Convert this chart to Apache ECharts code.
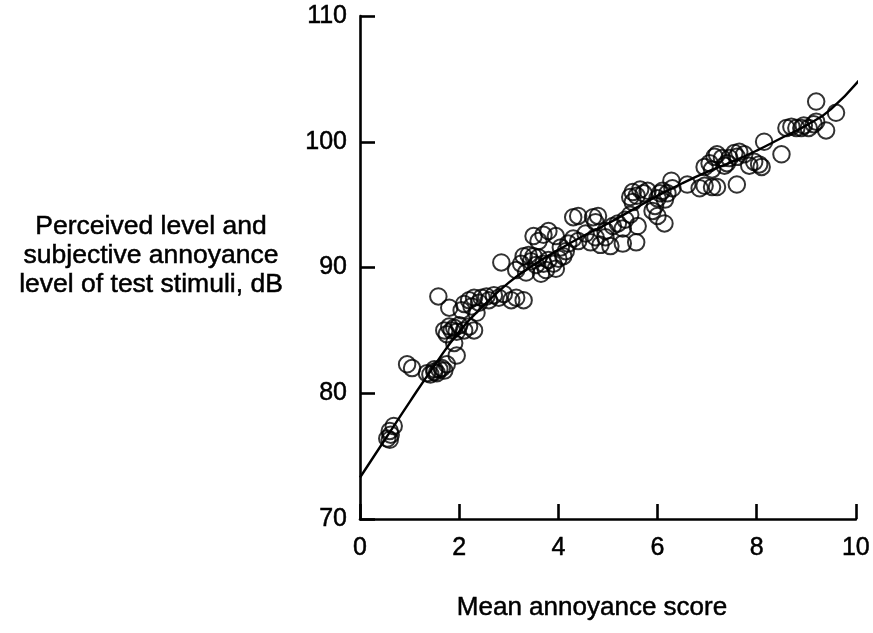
<!DOCTYPE html>
<html>
<head>
<meta charset="utf-8">
<script src="https://cdn.jsdelivr.net/npm/echarts@6/dist/echarts.min.js"></script>
<style>
  html, body { margin: 0; padding: 0; background: #fff; }
  #chart { width: 873px; height: 633px; }
</style>
</head>
<body>
<div id="chart"></div>
<script>
// Tick values for both axes
const xTicks = [0, 2, 4, 6, 8, 10];
const yTicks = [70, 80, 90, 100, 110];

// Individual test stimuli: [mean annoyance score, level in dB]
const stimuliPoints = [
  [0.55, 76.4], [0.6, 76.3], [0.62, 76.7], [0.6, 77.0], [0.68, 77.4],
  [0.95, 82.3], [1.05, 82.0],
  [1.35, 81.6], [1.42, 81.5], [1.5, 81.7], [1.55, 81.6], [1.6, 81.9], [1.65, 82.0], [1.7, 81.8], [1.75, 82.3], [1.5, 81.9],
  [1.95, 83.0], [1.9, 84.0],
  [1.7, 85.0], [1.75, 84.7], [1.8, 85.3], [1.85, 85.0], [1.9, 85.2], [1.95, 84.9], [2.0, 85.4], [2.1, 85.0], [2.2, 85.3], [2.3, 85.0],
  [1.58, 87.7], [1.8, 86.8],
  [2.05, 86.6], [2.1, 87.1], [2.2, 87.4], [2.25, 86.9], [2.3, 87.6], [2.4, 87.2], [2.45, 87.6], [2.55, 87.7], [2.6, 87.4], [2.7, 87.8], [2.8, 87.6], [2.9, 87.9], [2.35, 86.4],
  [2.85, 90.4],
  [3.05, 87.4], [3.15, 87.6], [3.3, 87.4],
  [3.15, 89.8], [3.25, 90.3], [3.3, 90.9], [3.35, 89.6], [3.4, 91.0], [3.45, 90.5], [3.5, 90.9], [3.55, 90.2], [3.6, 90.8], [3.65, 89.5],
  [3.7, 90.3], [3.75, 89.8], [3.8, 90.6], [3.9, 90.3], [3.95, 89.9], [4.0, 90.7], [4.1, 90.9], [4.15, 91.3],
  [3.5, 92.5], [3.7, 92.6], [3.8, 92.9], [3.95, 92.5], [3.6, 92.1],
  [4.05, 91.6], [4.2, 91.9], [4.3, 92.3], [4.4, 92.1],
  [4.3, 94.0], [4.4, 94.1], [4.7, 94.0], [4.8, 94.1], [4.75, 93.6],
  [4.55, 92.7], [4.65, 92.0], [4.75, 92.4], [4.85, 91.8], [4.95, 92.4], [5.05, 91.7], [4.95, 92.9], [5.1, 93.3], [5.3, 91.9],
  [5.2, 93.5], [5.35, 93.8], [5.45, 94.2], [5.3, 93.1],
  [5.57, 92.0], [5.6, 93.3],
  [5.45, 95.6], [5.5, 96.0], [5.58, 95.7], [5.65, 96.2], [5.72, 95.9], [5.8, 96.1], [5.5, 95.2],
  [5.9, 94.5], [6.0, 94.1], [5.95, 94.9],
  [6.0, 95.5], [6.05, 95.9], [6.1, 96.1], [6.2, 95.9], [6.3, 96.3], [6.15, 95.4],
  [6.28, 96.9], [6.14, 93.5],
  [6.6, 96.6], [6.85, 96.3], [6.95, 96.5], [7.1, 96.4],
  [6.95, 98.0], [7.05, 98.3], [7.15, 98.8], [7.2, 99.0], [7.3, 98.7], [7.4, 98.3], [7.45, 98.7], [7.1, 97.8], [7.35, 98.1],
  [7.55, 99.1], [7.65, 99.2], [7.75, 99.0], [7.6, 98.8],
  [7.2, 96.4], [7.6, 96.6],
  [7.85, 98.1], [7.95, 98.4], [8.05, 98.2], [8.1, 98.0],
  [8.15, 100.0], [8.5, 99.0],
  [8.6, 101.1], [8.7, 101.2], [8.8, 101.1], [8.9, 101.1], [8.95, 101.3], [9.05, 101.1], [9.15, 101.4], [9.2, 101.6],
  [9.2, 103.2], [9.4, 100.9], [9.6, 102.3]
];

// Fitted relation between annoyance score and level
const fitCurve = [
  [0, 73.3], [0.5, 76.3], [1.0, 79.3], [1.5, 82.2], [2.0, 84.9], [2.5, 87.0],
  [3.0, 88.8], [3.5, 90.2], [4.0, 91.4], [4.5, 92.5], [5.0, 93.5], [5.5, 94.6],
  [6.0, 95.7], [6.5, 96.7], [7.0, 97.6], [7.5, 98.4], [8.0, 99.3], [8.5, 100.3],
  [9.0, 101.3], [9.5, 102.6], [10.15, 105.3]
];

const xTitle = 'Mean annoyance score';
const yTitle = ['Perceived level and', 'subjective annoyance', 'level of test stimuli, dB'];

const FONT = '"Liberation Sans", Arial, Helvetica, sans-serif';
const chart = echarts.init(document.getElementById('chart'), null, { renderer: 'canvas' });

const axisLine = { show: true, lineStyle: { color: '#000', width: 2.6 } };
const axisTick = { show: true, inside: true, length: 15, lineStyle: { color: '#000', width: 2.6 } };
const labelStyle = {
  color: '#000', fontFamily: FONT, fontSize: 25,
  textBorderColor: '#000', textBorderWidth: 0.5
};

chart.setOption({
  animation: false,
  backgroundColor: '#fff',
  grid: { left: 360, right: 16, top: 16, bottom: 114, containLabel: false },
  xAxis: {
    type: 'value',
    min: xTicks[0],
    max: xTicks[xTicks.length - 1],
    interval: xTicks[1] - xTicks[0],
    axisLine: axisLine,
    axisTick: axisTick,
    splitLine: { show: false },
    axisLabel: Object.assign({ margin: 17 }, labelStyle)
  },
  yAxis: {
    type: 'value',
    min: yTicks[0],
    max: yTicks[yTicks.length - 1],
    interval: yTicks[1] - yTicks[0],
    axisLine: axisLine,
    axisTick: axisTick,
    splitLine: { show: false },
    axisLabel: Object.assign({ margin: 13 }, labelStyle)
  },
  graphic: [
    {
      type: 'text',
      x: 592,
      y: 608,
      style: {
        text: xTitle, font: '26px ' + FONT, fill: '#000',
        stroke: '#000', lineWidth: 0.5,
        align: 'center', verticalAlign: 'middle'
      }
    },
    {
      type: 'text',
      x: 151,
      y: 256,
      style: {
        text: yTitle.join('\n'),
        font: '26.5px ' + FONT,
        fill: '#000',
        stroke: '#000', lineWidth: 0.5,
        align: 'center',
        verticalAlign: 'middle',
        lineHeight: 29
      }
    }
  ],
  series: [
    {
      type: 'line',
      data: fitCurve,
      smooth: true,
      showSymbol: false,
      clip: false,
      lineStyle: { color: '#000', width: 2.4 },
      z: 2
    },
    {
      type: 'scatter',
      data: stimuliPoints,
      symbol: 'circle',
      symbolSize: 16.5,
      itemStyle: { color: 'rgba(255,255,255,0)', borderColor: '#000', borderWidth: 2 },
      z: 3
    }
  ]
});
</script>
</body>
</html>
